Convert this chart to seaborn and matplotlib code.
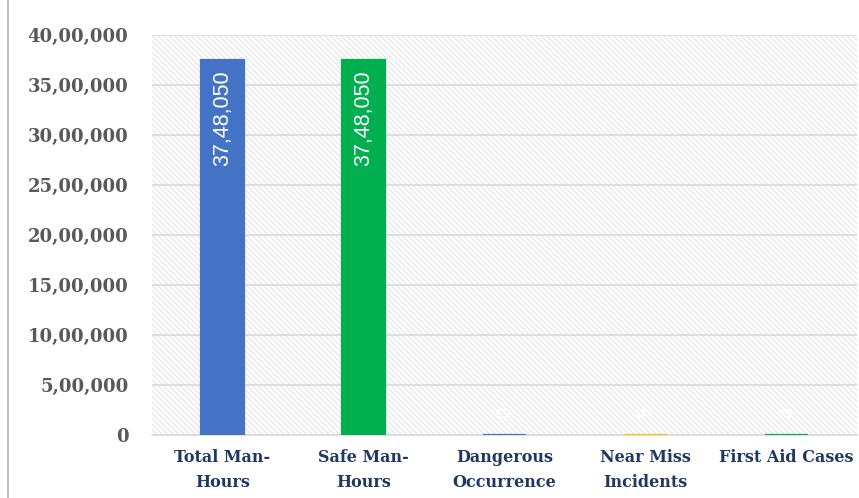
import matplotlib
matplotlib.use("Agg")
import matplotlib.pyplot as plt
import seaborn as sns
import pandas as pd
from matplotlib.patches import Rectangle
from matplotlib.lines import Line2D
from matplotlib.ticker import FuncFormatter, MultipleLocator

categories = ["Total Man-\nHours", "Safe Man-\nHours", "Dangerous\nOccurrence",
              "Near Miss\nIncidents", "First Aid Cases"]
values = [3748050, 3748050, 0, 5, 8]
bar_colors = ["#4472C4", "#00B050", "#4472C4", "#FFC000", "#00B050"]
y_max = 4000000
y_step = 500000


def indian_format(v):
    n = int(round(v))
    s = str(n)
    if len(s) <= 3:
        return s
    last3 = s[-3:]
    rest = s[:-3]
    groups = []
    while len(rest) > 2:
        groups.insert(0, rest[-2:])
        rest = rest[:-2]
    if rest:
        groups.insert(0, rest)
    return ",".join(groups + [last3])


sns.set_theme(style="white")
plt.rcParams["hatch.linewidth"] = 0.6

df = pd.DataFrame({"cat": categories, "val": values})

fig = plt.figure(figsize=(8.59, 4.98), dpi=100)
ax = fig.add_axes([152 / 859, 1 - 435 / 498, 705 / 859, 400 / 498])

# hatched background
ax.add_patch(Rectangle((0, 0), 1, 1, transform=ax.transAxes, facecolor="none",
                       edgecolor="#dcdcdc", linewidth=0, hatch="\\" * 6, zorder=0))

sns.barplot(data=df, x="cat", y="val", hue="cat", palette=bar_colors,
            width=0.3, legend=False, ax=ax, saturation=1, zorder=3)
for bar in ax.patches:
    if isinstance(bar, Rectangle) and bar.get_width() < 1 and bar.get_x() > -1:
        bar.set_edgecolor(bar.get_facecolor())
        bar.set_linewidth(1.6)

ax.set_ylim(0, y_max)
ax.set_xlim(-0.5, len(categories) - 0.5)
ax.yaxis.set_major_locator(MultipleLocator(y_step))
ax.yaxis.set_major_formatter(FuncFormatter(lambda v, p: indian_format(v)))
ax.grid(axis="y", color="#d9d9d9", linewidth=1.2, zorder=1)
ax.set_axisbelow(True)
ax.set_xlabel("")
ax.set_ylabel("")

for s in ["top", "right", "left"]:
    ax.spines[s].set_visible(False)
ax.spines["bottom"].set_color("#d9d9d9")
ax.spines["bottom"].set_linewidth(1.2)

ax.tick_params(axis="y", length=0, pad=17, labelsize=13, labelcolor="#595959")
ax.tick_params(axis="x", length=0, pad=10, labelsize=11.5, labelcolor="#1F3864")
for lbl in ax.get_yticklabels():
    lbl.set_fontfamily("DejaVu Serif")
    lbl.set_fontweight("bold")
for lbl in ax.get_xticklabels():
    lbl.set_fontfamily("DejaVu Serif")
    lbl.set_fontweight("bold")
    lbl.set_linespacing(1.65)

# value labels
for i, v in enumerate(values):
    if v > y_max * 0.1:
        ax.annotate(indian_format(v), (i, v), xytext=(0, -7), textcoords="offset points",
                    rotation=90, ha="center", va="top", color="white",
                    fontsize=15.5, fontfamily="Liberation Sans", zorder=5)
    else:
        ax.annotate(indian_format(v), (i, v), xytext=(0, 12), textcoords="offset points",
                    rotation=90, ha="center", va="bottom", color="white",
                    fontsize=14, fontfamily="Liberation Sans", zorder=5)

fig.add_artist(Line2D([8 / 859, 8 / 859], [0, 1], transform=fig.transFigure,
                      color="#bfbfbf", linewidth=1.5))

fig.savefig("out.png", dpi=100, facecolor="white")
